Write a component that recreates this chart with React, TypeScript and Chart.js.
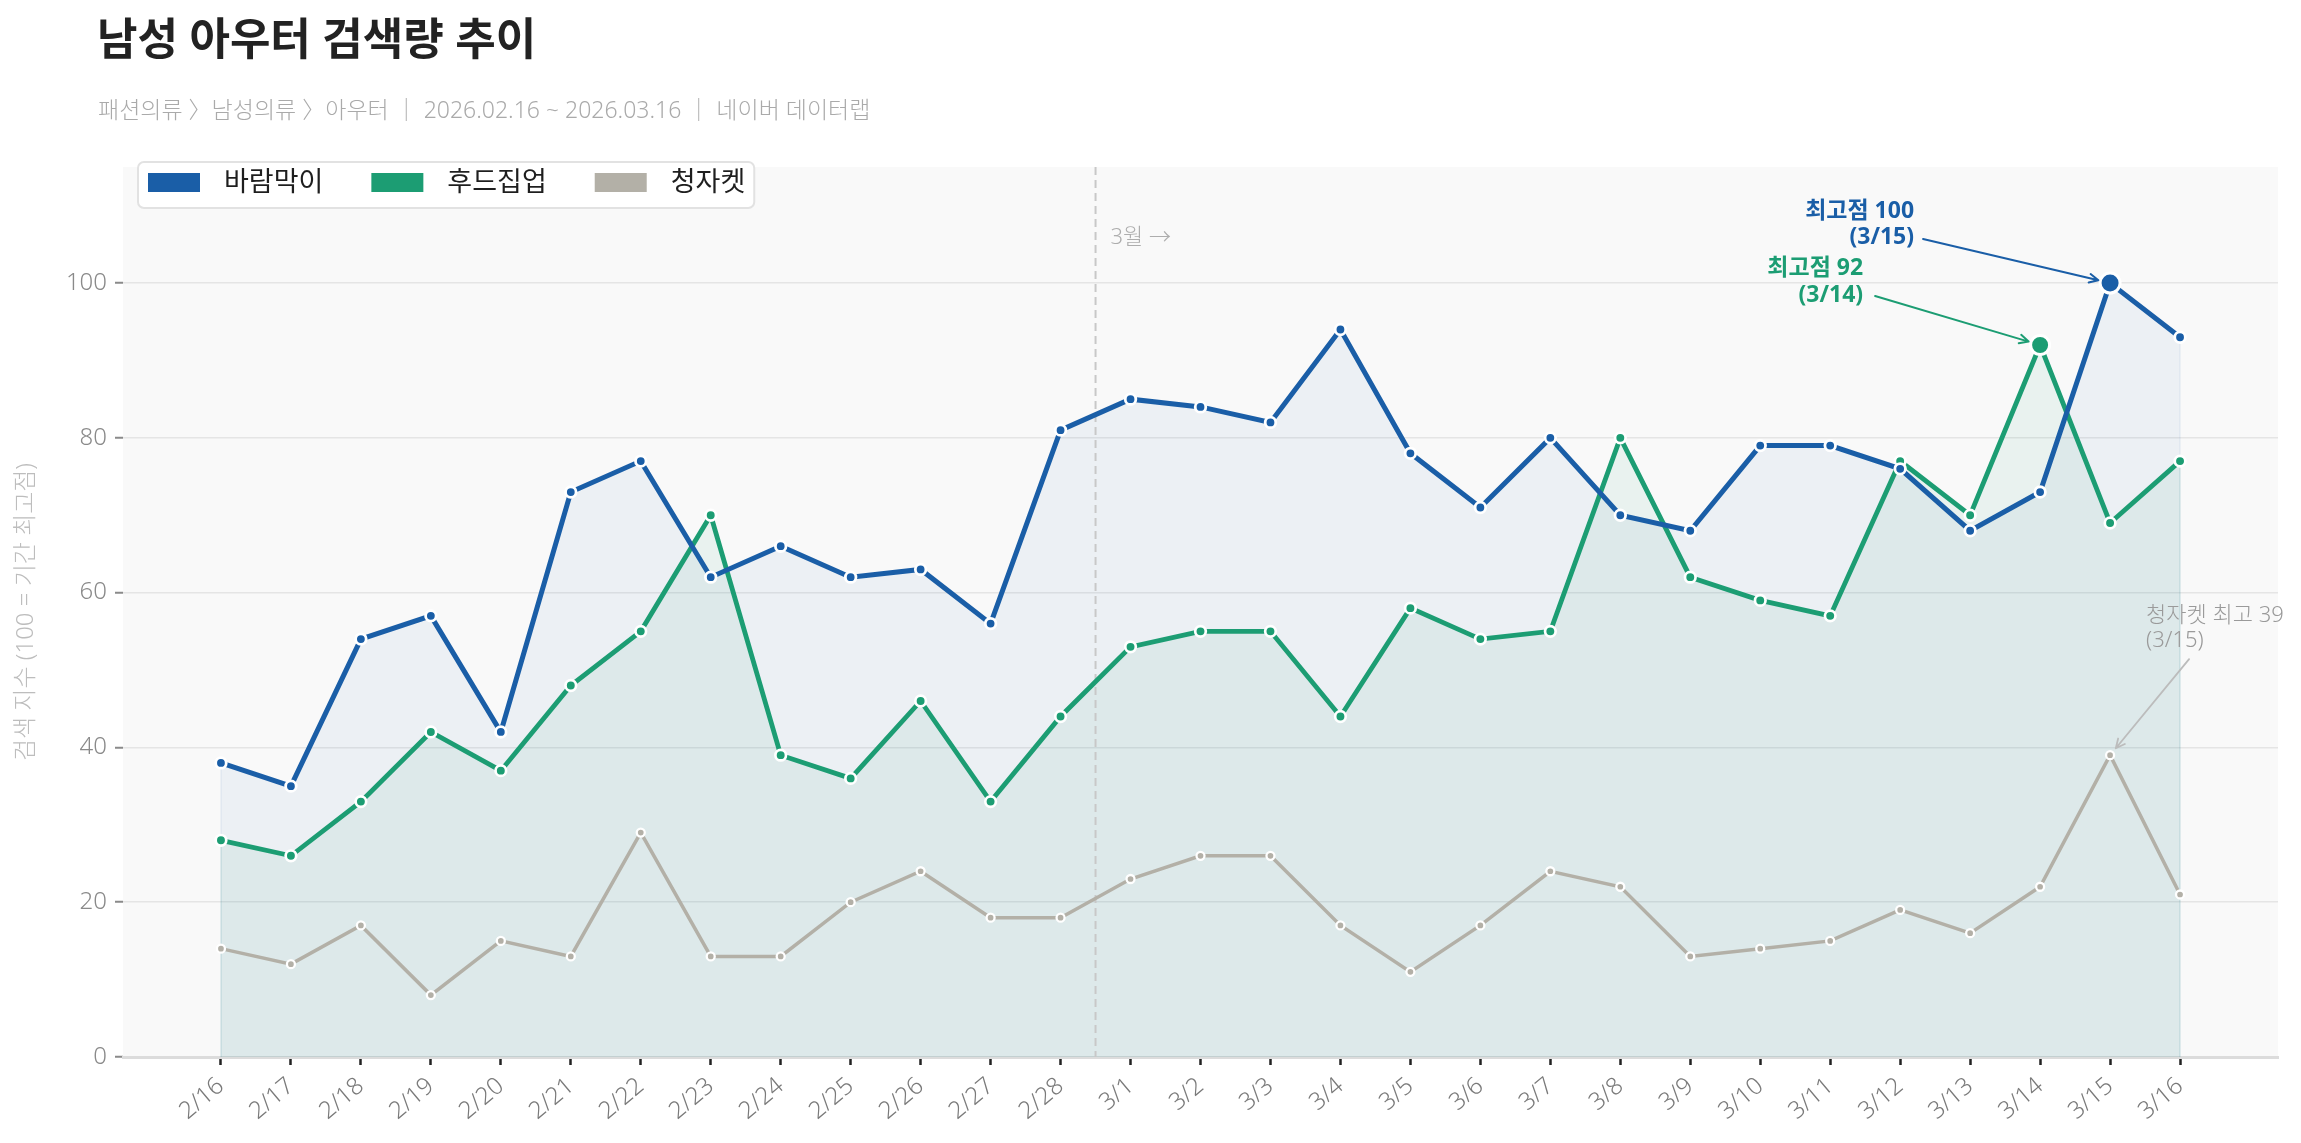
import React, { useEffect, useRef } from "react";
import Chart from "chart.js/auto";
import type { ChartConfiguration, Plugin } from "chart.js";

const DATES = [
  "2/16", "2/17", "2/18", "2/19", "2/20", "2/21", "2/22", "2/23", "2/24", "2/25",
  "2/26", "2/27", "2/28", "3/1", "3/2", "3/3", "3/4", "3/5", "3/6", "3/7",
  "3/8", "3/9", "3/10", "3/11", "3/12", "3/13", "3/14", "3/15", "3/16",
];
const WINDBREAKER = [38, 35, 54, 57, 42, 73, 77, 62, 66, 62, 63, 56, 81, 85, 84, 82, 94, 78, 71, 80, 70, 68, 79, 79, 76, 68, 73, 100, 93];
const HOODIE = [28, 26, 33, 42, 37, 48, 55, 70, 39, 36, 46, 33, 44, 53, 55, 55, 44, 58, 54, 55, 80, 62, 59, 57, 77, 70, 92, 69, 77];
const DENIM_JACKET = [14, 12, 17, 8, 15, 13, 29, 13, 13, 20, 24, 18, 18, 23, 26, 26, 17, 11, 17, 24, 22, 13, 14, 15, 19, 16, 22, 39, 21];
const SERIES_NAMES = ["바람막이", "후드집업", "청자켓"];
const Y_TICKS = [0, 20, 40, 60, 80, 100];

const FONT = '"Noto Sans", "Noto Sans CJK KR", sans-serif';
const BLUE = "#1a5ea7";
const GREEN = "#1c9d73";
const GRAY = "#b3b0a7";
const COLORS = [BLUE, GREEN, GRAY];

const peakIndex = (values: number[]) => values.indexOf(Math.max(...values));
const MARCH_INDEX = DATES.indexOf("3/1");

const drawArrow = (
  ctx: CanvasRenderingContext2D,
  x1: number,
  y1: number,
  x2: number,
  y2: number,
  color: string,
  width: number
) => {
  const angle = Math.atan2(y2 - y1, x2 - x1);
  const head = 10;
  ctx.save();
  ctx.strokeStyle = color;
  ctx.lineWidth = width;
  ctx.lineCap = "round";
  ctx.lineJoin = "round";
  ctx.beginPath();
  ctx.moveTo(x1, y1);
  ctx.lineTo(x2, y2);
  ctx.moveTo(x2 - head * Math.cos(angle - 0.45), y2 - head * Math.sin(angle - 0.45));
  ctx.lineTo(x2, y2);
  ctx.lineTo(x2 - head * Math.cos(angle + 0.45), y2 - head * Math.sin(angle + 0.45));
  ctx.stroke();
  ctx.restore();
};

const plotBackground: Plugin = {
  id: "plotBackground",
  beforeDraw(chart) {
    const { ctx, chartArea: a } = chart;
    ctx.save();
    ctx.fillStyle = "#f9f9f9";
    ctx.fillRect(a.left, a.top, a.right - a.left, a.bottom - a.top);
    ctx.restore();
  },
};

const monthDivider: Plugin = {
  id: "monthDivider",
  beforeDatasetsDraw(chart) {
    const { ctx, chartArea: a, scales } = chart;
    const x = scales.x.getPixelForValue(MARCH_INDEX - 0.5);

    // faint edges at both ends of the filled areas
    ctx.save();
    ctx.lineWidth = 1.5;
    [
      [WINDBREAKER, "rgba(26,94,167,0.07)"],
      [HOODIE, "rgba(28,157,115,0.08)"],
    ].forEach(([values, color]) => {
      const v = values as number[];
      ctx.strokeStyle = color as string;
      [0, v.length - 1].forEach((i) => {
        const px = scales.x.getPixelForValue(i);
        ctx.beginPath();
        ctx.moveTo(px, scales.y.getPixelForValue(0));
        ctx.lineTo(px, scales.y.getPixelForValue(v[i]));
        ctx.stroke();
      });
    });
    ctx.restore();

    ctx.save();
    ctx.strokeStyle = "#c8c8c8";
    ctx.lineWidth = 2;
    ctx.setLineDash([8, 5]);
    ctx.beginPath();
    ctx.moveTo(x, a.top);
    ctx.lineTo(x, a.bottom);
    ctx.stroke();
    ctx.setLineDash([]);
    ctx.fillStyle = "#adadad";
    ctx.font = `300 22px ${FONT}`;
    ctx.textAlign = "left";
    ctx.textBaseline = "middle";
    ctx.fillText("3월 →", x + 15, a.top + 71);
    ctx.restore();
  },
};

type Note = {
  values: number[];
  lines: (peak: number, date: string) => string[];
  color: string;
  arrowColor: string;
  font: string;
  align: CanvasTextAlign;
  textDx: number;
  textDy: number[];
  from: [number, number];
  shrink: number;
  arrowWidth: number;
};

const NOTES: Note[] = [
  {
    values: WINDBREAKER,
    lines: (peak, date) => [`최고점 ${peak}`, `(${date})`],
    color: BLUE,
    arrowColor: BLUE,
    font: `bold 23px ${FONT}`,
    align: "right",
    textDx: -196,
    textDy: [-72, -46],
    from: [-187, -44],
    shrink: 12,
    arrowWidth: 2,
  },
  {
    values: HOODIE,
    lines: (peak, date) => [`최고점 ${peak}`, `(${date})`],
    color: GREEN,
    arrowColor: GREEN,
    font: `bold 23px ${FONT}`,
    align: "right",
    textDx: -177,
    textDy: [-77, -50],
    from: [-165, -49],
    shrink: 12,
    arrowWidth: 2,
  },
  {
    values: DENIM_JACKET,
    lines: (peak, date) => [`청자켓 최고 ${peak}`, `(${date})`],
    color: "#9a9a9a",
    arrowColor: "#bcbcbc",
    font: `300 22px ${FONT}`,
    align: "left",
    textDx: 36,
    textDy: [-139, -114],
    from: [79, -96],
    shrink: 9,
    arrowWidth: 1.8,
  },
];

const peakNotes: Plugin = {
  id: "peakNotes",
  afterDatasetsDraw(chart) {
    const { ctx, scales } = chart;
    NOTES.forEach((note) => {
      const idx = peakIndex(note.values);
      const px = scales.x.getPixelForValue(idx);
      const py = scales.y.getPixelForValue(note.values[idx]);
      const sx = px + note.from[0];
      const sy = py + note.from[1];
      const dist = Math.hypot(px - sx, py - sy);
      const ex = px - ((px - sx) / dist) * note.shrink;
      const ey = py - ((py - sy) / dist) * note.shrink;
      drawArrow(ctx, sx, sy, ex, ey, note.arrowColor, note.arrowWidth);

      ctx.save();
      ctx.fillStyle = note.color;
      ctx.font = note.font;
      ctx.textAlign = note.align;
      ctx.textBaseline = "middle";
      note.lines(note.values[idx], DATES[idx]).forEach((line, i) => {
        ctx.fillText(line, px + note.textDx, py + note.textDy[i]);
      });
      ctx.restore();
    });
  },
};

const boxLegend: Plugin = {
  id: "boxLegend",
  afterDraw(chart) {
    const { ctx, chartArea: a } = chart;
    ctx.save();
    ctx.font = `27px ${FONT}`;
    const left = a.left + 15;
    const top = a.top - 5;
    const swatchW = 52;
    const swatchH = 19;
    let x = left + 10;
    let end = x;
    const items = SERIES_NAMES.map((name, i) => {
      const item = { name, color: COLORS[i], x };
      end = x + swatchW + 24 + ctx.measureText(name).width;
      x = end + 48;
      return item;
    });
    const width = end + 9 - left;
    const height = 46;

    ctx.beginPath();
    ctx.roundRect(left, top, width, height, 6);
    ctx.fillStyle = "rgba(255,255,255,0.95)";
    ctx.fill();
    ctx.strokeStyle = "#e2e2e2";
    ctx.lineWidth = 2;
    ctx.stroke();

    items.forEach((item) => {
      ctx.fillStyle = item.color;
      ctx.fillRect(item.x, top + 11, swatchW, swatchH);
      ctx.fillStyle = "#1e1e1e";
      ctx.textAlign = "left";
      ctx.textBaseline = "middle";
      ctx.fillText(item.name, item.x + swatchW + 24, top + 21);
    });
    ctx.restore();
  },
};

const lineDataset = (
  index: number,
  values: number[],
  fill: string | null,
  lineWidth: number,
  radius: number,
  border: number,
  peakRadius: number
) => {
  const peak = peakIndex(values);
  return {
    label: SERIES_NAMES[index],
    data: values.map((y, x) => ({ x, y })),
    borderColor: COLORS[index],
    borderWidth: lineWidth,
    backgroundColor: fill ?? "transparent",
    fill: fill ? "origin" : false,
    tension: 0,
    pointBackgroundColor: COLORS[index],
    pointBorderColor: "#ffffff",
    pointBorderWidth: (ctx: any) => (ctx.dataIndex === peak && peakRadius > radius ? 3 : border),
    pointRadius: (ctx: any) => (ctx.dataIndex === peak ? peakRadius : radius),
    pointHoverRadius: (ctx: any) => (ctx.dataIndex === peak ? peakRadius : radius),
  };
};

const SearchTrendChart: React.FC = () => {
  const canvasRef = useRef<HTMLCanvasElement | null>(null);

  useEffect(() => {
    const canvas = canvasRef.current;
    if (!canvas) return;

    const config: ChartConfiguration = {
      type: "line",
      data: {
        datasets: [
          lineDataset(0, WINDBREAKER, "rgba(26,94,167,0.06)", 5, 5.3, 2.8, 10),
          lineDataset(1, HOODIE, "rgba(28,157,115,0.07)", 4.8, 5.3, 2.7, 9.5),
          lineDataset(2, DENIM_JACKET, null, 3.5, 4, 2.3, 4),
        ] as any,
      },
      options: {
        responsive: false,
        animation: false,
        layout: { padding: { top: 167, right: 23, bottom: 0, left: 0 } },
        plugins: {
          legend: { display: false },
          tooltip: { enabled: false },
          filler: { drawTime: "beforeDatasetsDraw" },
        },
        scales: {
          x: {
            type: "linear",
            min: -1.4,
            max: 29.4,
            afterBuildTicks: (scale: any) => {
              scale.ticks = DATES.map((_, i) => ({ value: i }));
            },
            afterFit: (scale: any) => {
              scale.height = 86;
            },
            ticks: {
              autoSkip: false,
              minRotation: 40,
              maxRotation: 40,
              color: "#7a7a7a",
              padding: 7,
              font: { family: FONT, size: 24, weight: "300" },
              callback: (_value: any, index: number) => DATES[index] ?? "",
            },
            grid: {
              display: true,
              drawOnChartArea: false,
              drawTicks: true,
              tickLength: 8,
              tickWidth: 2.5,
              tickColor: "#222222",
            },
            border: { display: true, color: "#dcdcdc", width: 3 },
          },
          y: {
            type: "linear",
            min: 0,
            max: 115,
            afterBuildTicks: (scale: any) => {
              scale.ticks = Y_TICKS.map((value) => ({ value }));
            },
            afterFit: (scale: any) => {
              scale.width = 123;
            },
            ticks: {
              color: "#8a8a8a",
              padding: 8,
              font: { family: FONT, size: 24, weight: "300" },
            },
            grid: {
              color: "#e5e5e5",
              lineWidth: 1.5,
              drawTicks: true,
              tickLength: 8,
              tickWidth: 2,
              tickColor: "#8a8a8a",
            },
            border: { display: false },
            title: {
              display: true,
              text: "검색 지수 (100 = 기간 최고점)",
              color: "#bdbdbd",
              font: { family: FONT, size: 24, weight: "300" },
              padding: { top: 12, bottom: 0 },
            },
          },
        },
      } as any,
      plugins: [plotBackground, monthDivider, peakNotes, boxLegend],
    };

    const chart = new Chart(canvas, config);
    return () => {
      chart.destroy();
    };
  }, []);

  return (
    <canvas
      ref={canvasRef}
      width={2301}
      height={1143}
      style={{ position: "absolute", left: 0, top: 0, width: 2301, height: 1143 }}
    />
  );
};

export default function App() {
  return (
    <div
      style={{
        position: "fixed",
        left: 0,
        top: 0,
        width: 2301,
        height: 1143,
        background: "#ffffff",
        overflow: "hidden",
        fontFamily: FONT,
      }}
    >
      <SearchTrendChart />
      <div
        style={{
          position: "absolute",
          left: 97,
          top: 12,
          fontSize: 44,
          lineHeight: "52px",
          fontWeight: 700,
          color: "#222222",
          whiteSpace: "nowrap",
        }}
      >
        남성 아우터 검색량 추이
      </div>
      <div
        style={{
          position: "absolute",
          left: 98,
          top: 96,
          fontSize: 23,
          lineHeight: "27px",
          fontWeight: 300,
          color: "#aaaaaa",
          whiteSpace: "nowrap",
        }}
      >
        패션의류 〉남성의류 〉아우터 ｜ 2026.02.16 ~ 2026.03.16 ｜ 네이버 데이터랩
      </div>
    </div>
  );
}
